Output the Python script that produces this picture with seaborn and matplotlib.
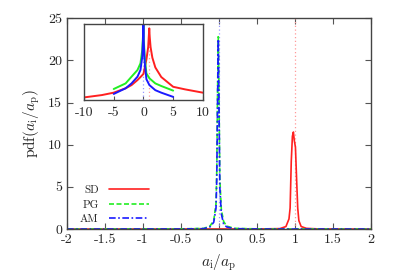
import numpy as np
import pandas as pd
import seaborn as sns
import matplotlib.pyplot as plt

# === Data: main panel (pdf of a_i/a_p) ===
sd_x = [-2, 0.5, 0.8, 0.88, 0.92, 0.935, 0.95, 0.965, 0.978, 0.99, 1.005, 1.02, 1.035, 1.05, 1.08, 1.15, 1.3, 2]
sd_y = [0, 0.01, 0.05, 0.3, 1.2, 2.5, 8, 11, 11.5, 10.5, 9.7, 6, 2.5, 1.0, 0.3, 0.08, 0.02, 0]

pk_x = [-2, -0.5, -0.2, -0.12, -0.07, -0.04, -0.03, -0.02, -0.01, 0.0, 0.01, 0.03, 0.06, 0.1, 0.2, 0.5, 2]
pg_y = [0, 0.02, 0.08, 0.35, 1.0, 3, 7, 16, 22.8, 15, 6, 2.3, 0.9, 0.35, 0.08, 0.02, 0]
am_y = [0, 0.01, 0.05, 0.25, 0.8, 2.5, 6, 15, 22.5, 14, 5, 1.8, 0.6, 0.25, 0.05, 0.01, 0]

# === Data: inset (log scale, wide range) ===
sd_tail_x = [-10, -7, -5, -3, -2, -1, -0.5, 0, 0.5, 0.8, 0.9, 0.978, 1.05, 1.2, 1.5, 2, 3, 5, 7, 10]
sd_tail_y = [0.0014, 0.0019, 0.0026, 0.0046, 0.007, 0.0135, 0.02, 0.03, 0.2, 1.0, 4, 11.5, 4, 1.0, 0.25, 0.07, 0.02, 0.0056, 0.004, 0.0026]

pk_tail_x = [-5, -3, -2, -1, -0.5, -0.2, -0.05, -0.01, 0.05, 0.2, 0.5, 1, 2, 3, 5]
pg_tail_y = [0.0042, 0.0087, 0.021, 0.05, 0.12, 0.68, 5.9, 22.8, 3, 0.3, 0.032, 0.017, 0.0087, 0.0062, 0.0034]
am_tail_y = [0.0022, 0.0046, 0.0087, 0.021, 0.05, 0.28, 3.8, 22.5, 2, 0.15, 0.015, 0.007, 0.0036, 0.0026, 0.0015]

labels = ["SD", "PG", "AM"]
colors = {"SD": "#ff2020", "PG": "#22ee22", "AM": "#1a1aff"}
styles = {"SD": "-", "PG": (0, (3, 1.5)), "AM": (0, (4, 1.5, 1, 1.5))}

sns.set_style("ticks")
plt.rcParams["font.family"] = "cmr10"
plt.rcParams["mathtext.fontset"] = "cm"
plt.rcParams["axes.unicode_minus"] = False
plt.rcParams["axes.formatter.use_mathtext"] = False

fig = plt.figure(figsize=(3.99, 2.79), dpi=100)
ax = fig.add_axes([0.168, 0.179, 0.762, 0.756])

main_sets = {
    "SD": pd.DataFrame({"x": sd_x, "y": sd_y}),
    "PG": pd.DataFrame({"x": pk_x, "y": pg_y}),
    "AM": pd.DataFrame({"x": pk_x, "y": am_y}),
}

# reference lines at 0 and 1
ax.axvline(0, color="#9999ff", ls=(0, (1, 2)), lw=0.9)
ax.axvline(1, color="#ff9999", ls=(0, (1, 2)), lw=0.9)
for lab in labels:
    sns.lineplot(data=main_sets[lab], x="x", y="y", ax=ax, estimator=None,
                 color=colors[lab], linestyle=styles[lab], lw=1.2, label=lab)

ax.set_xlim(-2, 2)
ax.set_ylim(0, 25)
ax.set_xticks(np.arange(-2, 2.01, 0.5))
ax.set_xticklabels(["-2", "-1.5", "-1", "-0.5", "0", "0.5", "1", "1.5", "2"])
ax.set_yticks(np.arange(0, 26, 5))
ax.tick_params(direction="in", top=True, right=True, length=4, labelsize=10, color="#555555")
for s in ax.spines.values():
    s.set_color("#444444")
    s.set_linewidth(1.0)
ax.set_xlabel(r"$a_\mathrm{i}/a_\mathrm{p}$", fontsize=11, labelpad=5)
ax.set_ylabel(r"pdf$(a_\mathrm{i}/a_\mathrm{p})$", fontsize=11)

leg = ax.legend(loc="lower left", bbox_to_anchor=(0.01, -0.025), frameon=False,
                markerfirst=False, fontsize=8, handlelength=3.6, labelspacing=0.45,
                handletextpad=0.9)

# === Inset ===
ins = fig.add_axes([0.2105, 0.6416, 0.298, 0.272])
tail_sets = {
    "SD": pd.DataFrame({"x": sd_tail_x, "y": sd_tail_y}),
    "PG": pd.DataFrame({"x": pk_tail_x, "y": pg_tail_y}),
    "AM": pd.DataFrame({"x": pk_tail_x, "y": am_tail_y}),
}
ins.axvline(0, color="#9999ff", ls=(0, (1, 2)), lw=0.9)
ins.axvline(1, color="#ff9999", ls=(0, (1, 2)), lw=0.9)
for lab in labels:
    sns.lineplot(data=tail_sets[lab], x="x", y="y", ax=ins, estimator=None,
                 color=colors[lab], linestyle="-", lw=1.4, legend=False)
ins.set_yscale("log")
ins.set_xlim(-10, 10)
ins.set_ylim(1e-3, 20)
ins.set_xticks([-10, -5, 0, 5, 10])
ins.set_xticklabels(["-10", "-5", "0", "5", "10"])
ins.set_yticks([])
ins.minorticks_off()
ins.set_xlabel("")
ins.set_ylabel("")
ins.tick_params(direction="in", length=3, labelsize=10, color="#555555", pad=5)
for s in ins.spines.values():
    s.set_color("#444444")
    s.set_linewidth(1.0)

plt.savefig("out.png", dpi=100)
